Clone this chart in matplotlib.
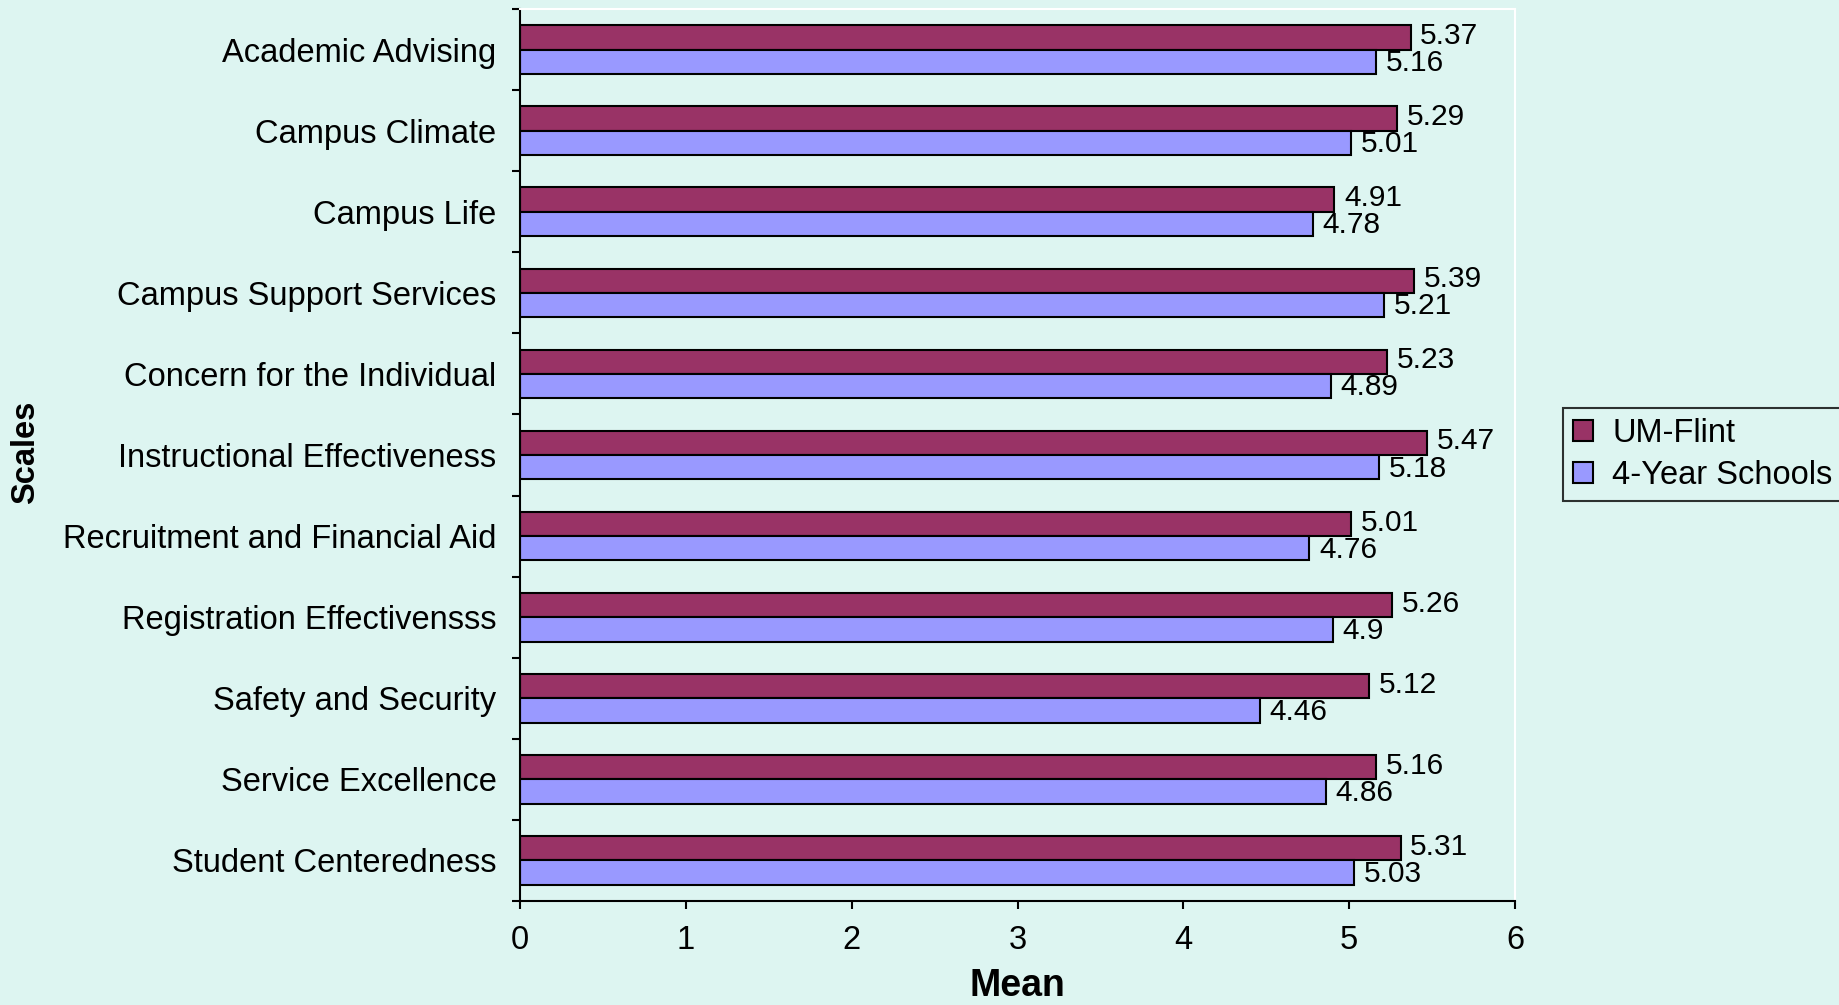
import matplotlib
matplotlib.use("Agg")
import matplotlib.pyplot as plt
import numpy as np

categories = ["Academic Advising", "Campus Climate", "Campus Life", "Campus Support Services",
              "Concern for the Individual", "Instructional Effectiveness",
              "Recruitment and Financial Aid", "Registration Effectivensss",
              "Safety and Security", "Service Excellence", "Student Centeredness"]
um_flint = [5.37, 5.29, 4.91, 5.39, 5.23, 5.47, 5.01, 5.26, 5.12, 5.16, 5.31]
four_year = [5.16, 5.01, 4.78, 5.21, 4.89, 5.18, 4.76, 4.9, 4.46, 4.86, 5.03]
series_names = ["UM-Flint", "4-Year Schools"]
x_ticks = [0, 1, 2, 3, 4, 5, 6]

BG = "#DDF5F1"
C1 = "#993366"
C2 = "#9999FF"
FS = 23.5
FS_DATA = 21.5

plt.rcParams['font.family'] = ['Liberation Sans', 'DejaVu Sans']

fig = plt.figure(figsize=(18.39, 10.05), dpi=100, facecolor=BG)
ax = fig.add_axes([0.2828, 0.1035, 0.541, 0.8875], facecolor=BG)

y = np.arange(len(categories))
h = 0.3
b1 = ax.barh(y - h / 2, um_flint, height=h, color=C1, edgecolor="black", linewidth=1.5, label=series_names[0])
b2 = ax.barh(y + h / 2, four_year, height=h, color=C2, edgecolor="black", linewidth=1.5, label=series_names[1])

for bars, vals, dy in ((b1, um_flint, 1), (b2, four_year, -1)):
    for bar, v in zip(bars, vals):
        ax.annotate(f"{v:g}", (v, bar.get_y() + bar.get_height() / 2),
                    xytext=(7, dy), textcoords="offset points",
                    ha="left", va="center", fontsize=FS_DATA, color="black")

ax.set_xlim(0, 6)
ax.set_ylim(len(categories) - 0.5, -0.5)
ax.set_xticks(x_ticks)
ax.set_xticklabels([str(t) for t in x_ticks], fontsize=FS)
ax.set_yticks(y)
ax.set_yticklabels(categories, fontsize=FS)
ax.set_yticks(np.arange(len(categories) + 1) - 0.5, minor=True)
ax.tick_params(axis="y", which="major", length=0, pad=17)
ax.tick_params(axis="y", which="minor", length=6, width=1.5, direction="out")
ax.tick_params(axis="x", which="major", length=6, width=1.5, direction="out", pad=11)

for s in ("left", "bottom"):
    ax.spines[s].set_color("black")
    ax.spines[s].set_linewidth(1.5)
for s in ("top", "right"):
    ax.spines[s].set_color("white")
    ax.spines[s].set_linewidth(1.5)

fig.text(0.5533, 0.009, "Mean", ha="center", va="baseline", fontsize=27, fontweight="bold")
fig.text(0.0141, 0.55, "Scales", ha="center", va="center", rotation=90, fontsize=23.5, fontweight="bold")

leg = fig.legend(handles=[b1, b2], loc="upper left", bbox_to_anchor=(0.850, 0.594),
                 borderaxespad=0, fontsize=FS, frameon=True, fancybox=False,
                 handlelength=0.6, handleheight=0.6, handletextpad=0.6,
                 labelspacing=0.35, borderpad=0.3)
leg.get_frame().set_edgecolor("black")
leg.get_frame().set_linewidth(1.5)
leg.get_frame().set_facecolor(BG)

fig.savefig("out.png", dpi=100, facecolor=BG)
